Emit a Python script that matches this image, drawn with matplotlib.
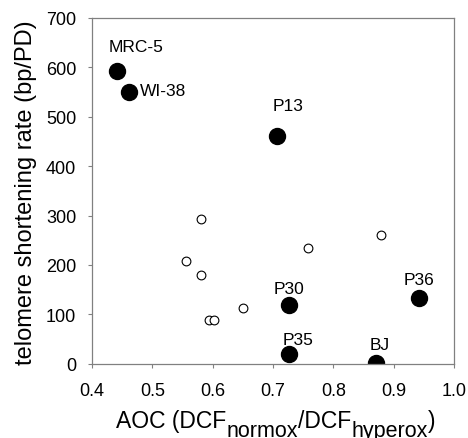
import matplotlib
matplotlib.use('Agg')
import matplotlib.pyplot as plt

plt.rcParams['font.family'] = ['Liberation Sans', 'DejaVu Sans']

# labelled cell strains (filled)
names = ['MRC-5', 'WI-38', 'P13', 'P30', 'P35', 'BJ', 'P36']
aoc = [0.441, 0.461, 0.707, 0.727, 0.726, 0.870, 0.942]
rate = [593, 549, 461, 118, 20, 1, 134]

# unlabelled strains (open)
aoc_open = [0.581, 0.555, 0.581, 0.593, 0.602, 0.650, 0.758, 0.879]
rate_open = [294, 208, 179, 89, 89, 112, 235, 260]

# label anchor points and alignment
lab_x = [0.472, 0.479, 0.725, 0.727, 0.7415, 0.877, 0.942]
lab_y = [642, 554, 522, 152, 49, 39, 170]
lab_ha = ['center', 'left', 'center', 'center', 'center', 'center', 'center']

xticks = [0.4, 0.5, 0.6, 0.7, 0.8, 0.9, 1.0]
xticklabels = ['0.4', '0.5', '0.6', '0.7', '0.8', '0.9', '1.0']
yticks = [0, 100, 200, 300, 400, 500, 600, 700]

# x label pieces: text, is_subscript
xlabel_parts = [('AOC (DCF', False), ('normox', True), ('/DCF', False),
                ('hyperox', True), (')', False)]

W, H = 468, 439
fig = plt.figure(figsize=(W / 100, H / 100), dpi=100)
ax = fig.add_axes([0.197, 0.169, 0.773, 0.788])

ax.plot(aoc_open, rate_open, 'o', ms=6.3, mfc='white', mec='black', mew=0.8, ls='none')
ax.plot(aoc, rate, 'o', ms=11.5, mfc='black', mec='black', ls='none')

for n, x, y, ha in zip(names, lab_x, lab_y, lab_ha):
    ax.text(x, y, n, ha=ha, va='center', fontsize=12.5)

ax.set_xlim(0.4, 1.0)
ax.set_ylim(0, 700)
ax.set_xticks(xticks)
ax.set_xticklabels(xticklabels)
ax.set_yticks(yticks)
ax.tick_params(direction='out', length=3, width=0.8, labelsize=13,
               color='#808080')
ax.tick_params(axis='x', pad=10)
ax.tick_params(axis='y', pad=8.5)
for s in ax.spines.values():
    s.set_linewidth(0.9)
    s.set_color('#808080')

fig.text(37.5 / W, 0.56, 'telomere shortening rate (bp/PD)', rotation=90,
         ha='right', va='center', fontsize=17)

# x label: chain the pieces, subscripts nearly full size and dropped 9 px
drop = 9 * 72 / 100
prev = fig.text(116.5 / W, 1 - 428 / H, xlabel_parts[0][0], ha='left',
                va='baseline', fontsize=16.5)
prev_sub = False
for txt, sub in xlabel_parts[1:]:
    dy = 0
    if sub and not prev_sub:
        dy = -drop
    elif prev_sub and not sub:
        dy = drop
    prev = ax.annotate(txt, xy=(1, 0), xycoords=prev, xytext=(0, dy),
                       textcoords='offset points', ha='left', va='bottom',
                       fontsize=15.5 if sub else 16.5, annotation_clip=False)
    prev_sub = sub

plt.savefig('out.png', dpi=100)
